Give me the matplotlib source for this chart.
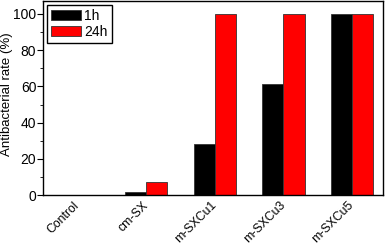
import numpy as np
import matplotlib
matplotlib.use("Agg")
import matplotlib.pyplot as plt
from matplotlib.ticker import MultipleLocator

plt.rcParams['font.family'] = ['Liberation Sans', 'DejaVu Sans']

categories = ['Control', 'cm-SX', 'm-SXCu1', 'm-SXCu3', 'm-SXCu5']
rate_1h = [0, 2, 28, 61.5, 100]
rate_24h = [0, 7.5, 100, 100, 100]

fig = plt.figure(figsize=(3.86, 2.47), dpi=100)
ax = fig.add_axes([0.112, 0.21, 0.88, 0.785])

x = np.arange(len(categories))
w = 0.31
ax.bar(x - w/2, rate_1h, w, color='black', edgecolor='#333333', linewidth=0.6, label='1h')
ax.bar(x + w/2, rate_24h, w, color='#ff0000', edgecolor='#333333', linewidth=0.6, label='24h')

ax.set_xlim(-0.5, 4.45)
ax.set_ylim(0, 107)
ax.set_xticks(x)
ax.set_xticklabels(categories, rotation=45, ha='right', va='center',
                   rotation_mode='anchor', fontsize=8.8)
ax.tick_params(axis='x', length=0, pad=6)
ax.yaxis.set_major_locator(MultipleLocator(20))
ax.yaxis.set_minor_locator(MultipleLocator(10))
ax.tick_params(axis='y', which='major', direction='out', length=4, labelsize=10, pad=1)
ax.tick_params(axis='y', which='minor', direction='out', length=2)
ax.set_ylabel('Antibacterial rate (%)', fontsize=9.5)
ax.yaxis.set_label_coords(-0.088, 0.52)
for s in ax.spines.values():
    s.set_linewidth(1.0)

ax.legend(loc='upper left', fontsize=10, frameon=True, fancybox=False, edgecolor='black',
          handlelength=2.2, handleheight=0.7, handletextpad=0.2, borderpad=0.3,
          labelspacing=0.15, borderaxespad=0.25, framealpha=1)

fig.savefig('out.png', dpi=100)
